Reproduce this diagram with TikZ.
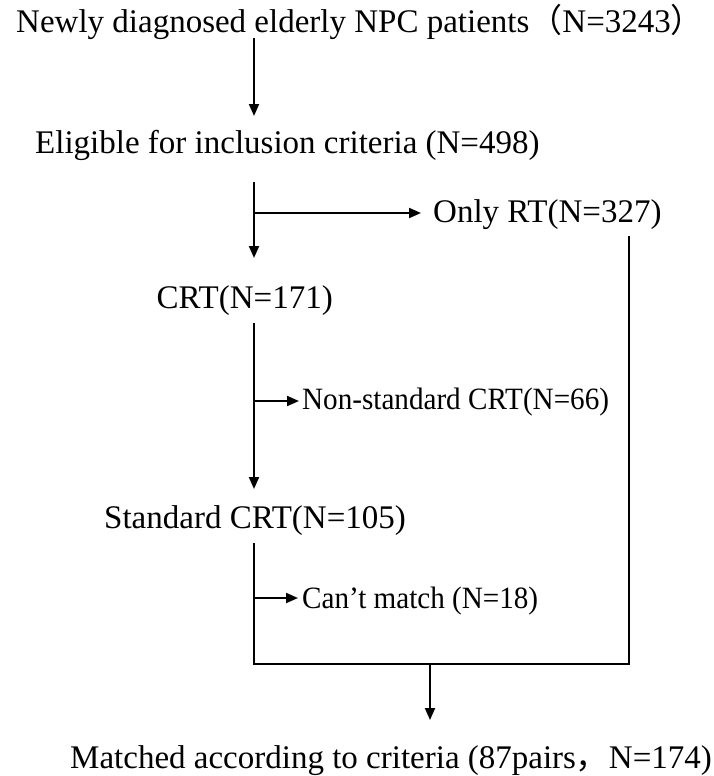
\documentclass[tikz,border=0pt]{standalone}
\usepackage{fontspec}
\setmainfont{Liberation Serif}
\newfontfamily\cjk{Noto Sans CJK SC}
\usetikzlibrary{arrows.meta}
\begin{document}
\begin{tikzpicture}[x=1pt,y=-1pt,
  txt/.style={anchor=base west,inner sep=0pt,font=\fontsize{33}{39}\selectfont},
  small/.style={font=\fontsize{31}{37}\selectfont,xscale=0.94},
  ln/.style={line width=2pt},
  arr/.style={line width=2pt,-{Triangle[length=12pt,width=10pt]}}]
\fill[white] (0,0) rectangle (713,776);
\useasboundingbox (0,0) rectangle (713,776);
% texts
\node[txt] (t1) at (16,33) {Newly diagnosed elderly NPC patients{\cjk （}N=3243{\cjk ）}};
\node[txt] (t2) at (35,153) {Eligible for inclusion criteria (N=498)};
\node[txt] (t3) at (433,222) {Only RT(N=327)};
\node[txt,anchor=base east] (t4) at (333,308) {CRT(N=171)};
\node[txt,small] (t5) at (302,409) {Non-standard CRT(N=66)};
\node[txt] (t6) at (104,528) {Standard CRT(N=105)};
\node[txt,small] (t7) at (302,608) {Can’t match (N=18)};
\node[txt] (t8) at (70,768) {Matched according to criteria (87pairs{\cjk ，}N=174)};
% junction coordinates
\coordinate (a1s) at (254,38);
\coordinate (a1e) at (254,116);
\coordinate (a2s) at (254,182);
\coordinate (j2) at (254,213);
\coordinate (a2e) at (254,258);
\coordinate (a3s) at (254,323);
\coordinate (j3) at (254,401);
\coordinate (a3e) at (254,489);
\coordinate (a4s) at (254,543);
\coordinate (j4) at (254,598);
\coordinate (bl) at (254,664);
\coordinate (br) at (629,664);
\coordinate (rt) at (629,236);
\coordinate (m) at (430,664);
\coordinate (me) at (430,720);
% connectors
\draw[arr] (a1s) -- (a1e);
\draw[arr] (a2s) -- (a2e);
\draw[arr] (j2) -- (j2 -| t3.west) [shorten >=12pt];
\draw[arr] (a3s) -- (a3e);
\draw[arr] (j3) -- (j3 -| t5.west) [shorten >=3pt];
\draw[ln,line join=miter] (a4s) -- (bl) -- (br) -- (rt);
\draw[arr] (j4) -- (j4 -| t7.west) [shorten >=4pt];
\draw[arr] (m) -- (me);
\end{tikzpicture}
\end{document}
